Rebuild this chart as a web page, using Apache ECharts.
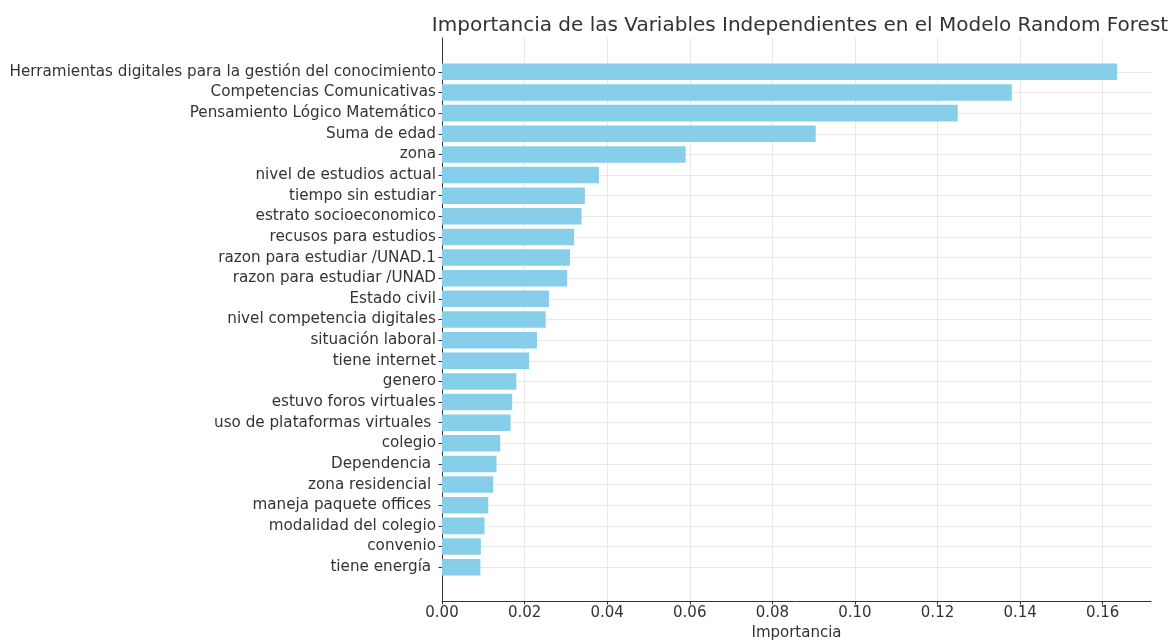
<!DOCTYPE html>
<html>
<head>
<meta charset="utf-8">
<script src="https://cdn.jsdelivr.net/npm/echarts@6/dist/echarts.min.js"></script>
<style>html,body{margin:0;padding:0;background:#fff}#c{width:1175px;height:641px}</style>
</head>
<body>
<div id="c"></div>
<script>
var categories = [
  "Herramientas digitales para la gestión del conocimiento",
  "Competencias Comunicativas",
  "Pensamiento Lógico Matemático",
  "Suma de edad",
  "zona",
  "nivel de estudios actual",
  "tiempo sin estudiar",
  "estrato socioeconomico",
  "recusos para estudios",
  "razon para estudiar /UNAD.1",
  "razon para estudiar /UNAD",
  "Estado civil",
  "nivel competencia digitales",
  "situación laboral",
  "tiene internet",
  "genero",
  "estuvo foros virtuales",
  "uso de plataformas virtuales ",
  "colegio",
  "Dependencia ",
  "zona residencial ",
  "maneja paquete offices ",
  "modalidad del colegio",
  "convenio",
  "tiene energía "
];
var importances = [
  0.1635, 0.1380, 0.1249, 0.0905, 0.0590, 0.0380, 0.0346, 0.0338, 0.0320, 0.0310,
  0.0303, 0.0259, 0.0251, 0.0230, 0.0211, 0.0180, 0.0170, 0.0166, 0.0141, 0.0132,
  0.0124, 0.0112, 0.0103, 0.0094, 0.0093
];
var xTicks = [0, 0.02, 0.04, 0.06, 0.08, 0.10, 0.12, 0.14, 0.16];
var yTicks = categories.map(function (c, i) { return i; });

var font = "'DejaVu Sans', sans-serif";
var chart = echarts.init(document.getElementById('c'), null, {renderer: 'canvas'});
chart.setOption({
  animation: false,
  backgroundColor: '#ffffff',
  title: {
    text: 'Importancia de las Variables Independientes en el Modelo Random Forest',
    left: 795, top: 11, textAlign: 'center',
    textStyle: {fontFamily: font, fontSize: 20, fontWeight: 'normal', color: '#333'}
  },
  grid: {left: 442, right: 24, top: 38, bottom: 40, containLabel: false, outerBoundsMode: 'none'},
  xAxis: {
    type: 'value', min: 0, max: 0.1717,
    name: 'Importancia', nameLocation: 'middle', nameGap: 24,
    nameTextStyle: {fontFamily: font, fontSize: 15, color: '#333'},
    axisLine: {show: true, onZero: false, lineStyle: {color: '#333', width: 1}},
    axisTick: {show: true, length: 3.5, lineStyle: {color: '#333'}, customValues: xTicks},
    axisLabel: {fontFamily: font, fontSize: 15, color: '#333', margin: 5, customValues: xTicks,
      formatter: function (v) { return v.toFixed(2); }},
    splitLine: {show: true, lineStyle: {color: '#e8e8e8', width: 1}}
  },
  yAxis: {
    type: 'value', inverse: true, min: -1.64, max: 25.64,
    axisLine: {show: true, onZero: false, lineStyle: {color: '#333', width: 1}},
    axisTick: {show: true, length: 3.5, lineStyle: {color: '#333'}, customValues: yTicks},
    axisLabel: {fontFamily: font, fontSize: 15.2, color: '#333', margin: 6, customValues: yTicks,
      formatter: function (v) { return categories[Math.round(v)]; }},
    splitLine: {show: true, lineStyle: {color: '#e8e8e8', width: 1}}
  },
  series: [{
    type: 'custom',
    encode: {x: 0, y: 1},
    data: importances.map(function (v, i) { return [v, i]; }),
    renderItem: function (params, api) {
      var v = api.value(0), i = api.value(1);
      var a = api.coord([0, i - 0.4]);
      var b = api.coord([v, i + 0.4]);
      return {
        type: 'rect',
        shape: {x: Math.min(a[0], b[0]), y: Math.min(a[1], b[1]),
                width: Math.abs(b[0] - a[0]), height: Math.abs(b[1] - a[1])},
        style: {fill: '#87CEEB'}
      };
    }
  }]
});
</script>
</body>
</html>
